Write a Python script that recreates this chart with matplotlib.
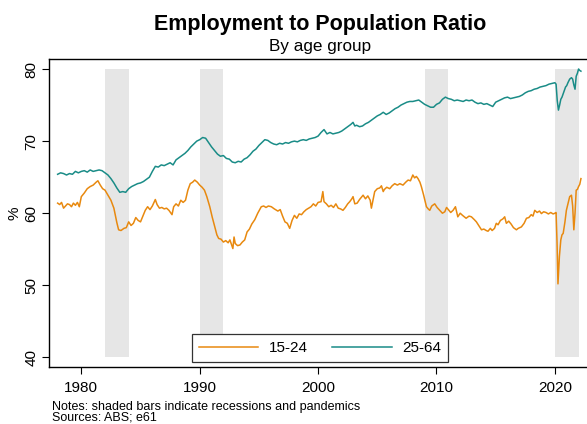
import matplotlib
matplotlib.use("Agg")
import matplotlib.pyplot as plt

plt.rcParams['font.family'] = ['Liberation Sans', 'DejaVu Sans']

# shaded periods (recessions and pandemics)
shade_start = [1982, 1990, 2009, 2020]
shade_end = [1984, 1992, 2011, 2022]

# 15-24 year olds
years_1524 = [1978.0, 1978.17, 1978.33, 1978.5, 1978.67, 1978.83, 1979.0, 1979.17, 1979.33, 1979.5,
              1979.67, 1979.83, 1980.0, 1980.25, 1980.5, 1980.75, 1981.0, 1981.25, 1981.4, 1981.6,
              1981.8, 1982.0, 1982.25, 1982.5, 1982.75, 1983.0, 1983.15, 1983.35, 1983.6, 1983.8,
              1984.0, 1984.2, 1984.4, 1984.6, 1984.8, 1985.0, 1985.2, 1985.4, 1985.6, 1985.8,
              1986.0, 1986.25, 1986.4, 1986.6, 1986.8, 1987.0, 1987.2, 1987.4, 1987.66, 1987.8,
              1988.0, 1988.2, 1988.4, 1988.6, 1988.8, 1989.0, 1989.2, 1989.4, 1989.58, 1989.8,
              1990.0, 1990.2, 1990.4, 1990.6, 1990.85, 1991.05, 1991.27, 1991.45, 1991.6, 1991.8,
              1992.0, 1992.2, 1992.4, 1992.55, 1992.7, 1992.8, 1992.9, 1993.0, 1993.2, 1993.4,
              1993.6, 1993.8, 1994.0, 1994.2, 1994.4, 1994.65, 1994.9, 1995.2, 1995.4, 1995.6,
              1995.8, 1996.05, 1996.3, 1996.6, 1996.8, 1997.0, 1997.2, 1997.4, 1997.6, 1997.8,
              1998.0, 1998.2, 1998.4, 1998.6, 1998.8, 1999.0, 1999.2, 1999.4, 1999.6, 1999.8,
              2000.0, 2000.25, 2000.4, 2000.5, 2000.7, 2000.9, 2001.1, 2001.3, 2001.5, 2001.7,
              2001.9, 2002.1, 2002.3, 2002.5, 2002.67, 2002.85, 2002.95, 2003.1, 2003.3, 2003.5,
              2003.65, 2003.8, 2004.0, 2004.2, 2004.4, 2004.5, 2004.65, 2004.78, 2005.0, 2005.2,
              2005.35, 2005.5, 2005.6, 2005.8, 2006.05, 2006.25, 2006.47, 2006.7, 2006.9, 2007.17,
              2007.4, 2007.6, 2007.8, 2008.0, 2008.15, 2008.3, 2008.44, 2008.6, 2008.72, 2008.9,
              2009.15, 2009.3, 2009.43, 2009.6, 2009.85, 2010.05, 2010.27, 2010.5, 2010.7, 2010.85,
              2011.0, 2011.2, 2011.4, 2011.6, 2011.8, 2012.0, 2012.2, 2012.5, 2012.75, 2012.95,
              2013.2, 2013.37, 2013.6, 2013.8, 2014.0, 2014.2, 2014.35, 2014.55, 2014.7, 2014.9,
              2015.05, 2015.2, 2015.4, 2015.6, 2015.76, 2015.9, 2016.1, 2016.3, 2016.5, 2016.75,
              2016.9, 2017.17, 2017.4, 2017.6, 2017.8, 2018.0, 2018.15, 2018.3, 2018.5, 2018.7,
              2018.86, 2019.05, 2019.25, 2019.45, 2019.65, 2019.85, 2020.0, 2020.1, 2020.18, 2020.26,
              2020.38, 2020.5, 2020.6, 2020.7, 2020.85, 2020.97, 2021.1, 2021.25, 2021.4, 2021.5,
              2021.6, 2021.7, 2021.8, 2021.9, 2022.0, 2022.1, 2022.2]
ratio_1524 = [61.4, 61.2, 61.5, 60.7, 61.0, 61.3, 61.2, 60.9, 61.4, 61.1,
              61.5, 60.9, 62.3, 62.8, 63.4, 63.7, 63.9, 64.3, 64.5, 63.9,
              63.4, 63.2, 62.5, 61.8, 60.7, 58.7, 57.7, 57.6, 57.9, 58.0,
              58.8, 58.3, 58.6, 59.4, 59.0, 58.8, 59.6, 60.4, 60.9, 60.5,
              61.0, 61.9, 61.2, 60.7, 60.8, 60.6, 60.7, 60.4, 59.8, 60.9,
              61.3, 61.0, 61.8, 61.5, 61.8, 63.2, 64.1, 64.3, 64.6, 64.3,
              63.9, 63.6, 63.2, 62.3, 60.9, 59.5, 58.1, 57.0, 56.5, 56.4,
              56.0, 56.2, 55.9, 56.3, 55.6, 55.1, 56.7, 55.8, 55.5, 55.6,
              56.0, 56.3, 57.4, 57.8, 58.5, 59.1, 60.0, 60.9, 61.0, 60.8,
              61.0, 60.9, 60.6, 60.3, 60.5, 59.6, 58.8, 58.6, 57.9, 59.0,
              59.7, 59.3, 59.9, 59.8, 60.2, 60.5, 60.7, 60.9, 61.3, 61.0,
              61.5, 61.6, 63.0, 61.6, 61.3, 60.9, 61.1, 60.8, 61.3, 60.7,
              60.6, 60.4, 60.8, 61.3, 61.6, 62.0, 62.3, 61.3, 61.4, 61.9,
              62.2, 62.5, 62.0, 62.4, 61.8, 60.7, 61.9, 63.0, 63.4, 63.5,
              63.8, 63.0, 63.3, 63.6, 63.4, 63.8, 64.1, 63.9, 64.1, 63.9,
              64.3, 64.6, 64.5, 65.3, 64.9, 65.1, 64.8, 64.3, 63.7, 62.6,
              60.9, 60.6, 60.4, 61.0, 61.3, 60.8, 60.4, 60.0, 60.2, 60.8,
              60.5, 60.1, 60.4, 60.9, 59.5, 60.0, 59.7, 59.3, 59.6, 59.5,
              59.1, 58.8, 58.2, 57.7, 57.8, 57.6, 57.5, 57.9, 57.6, 57.9,
              58.6, 58.4, 59.0, 59.2, 59.5, 58.6, 58.9, 58.5, 58.0, 57.7,
              57.9, 58.1, 58.6, 59.3, 59.4, 59.8, 59.6, 60.4, 60.1, 60.3,
              59.95, 60.2, 60.1, 59.9, 60.1, 59.9, 60.0, 60.1, 56.0, 50.2,
              54.0, 56.3, 57.0, 57.2, 58.8, 60.4, 61.3, 62.3, 62.5, 61.0,
              57.7, 60.0, 63.2, 63.3, 63.7, 64.0, 64.8]

# 25-64 year olds
years_2564 = [1978.0, 1978.25, 1978.5, 1978.75, 1979.0, 1979.25, 1979.5, 1979.75, 1980.0, 1980.25,
              1980.5, 1980.75, 1981.0, 1981.25, 1981.5, 1981.75, 1982.0, 1982.25, 1982.5, 1982.75,
              1983.0, 1983.25, 1983.5, 1983.75, 1984.0, 1984.25, 1984.5, 1984.75, 1985.0, 1985.25,
              1985.5, 1985.75, 1986.0, 1986.25, 1986.5, 1986.75, 1987.0, 1987.25, 1987.5, 1987.75,
              1988.0, 1988.25, 1988.5, 1988.75, 1989.0, 1989.25, 1989.5, 1989.75, 1990.0, 1990.25,
              1990.5, 1990.75, 1991.0, 1991.25, 1991.5, 1991.75, 1992.0, 1992.25, 1992.5, 1992.75,
              1993.0, 1993.25, 1993.5, 1993.75, 1994.0, 1994.25, 1994.5, 1994.75, 1995.0, 1995.25,
              1995.5, 1995.75, 1996.0, 1996.25, 1996.5, 1996.75, 1997.0, 1997.25, 1997.5, 1997.75,
              1998.0, 1998.25, 1998.5, 1998.75, 1999.0, 1999.25, 1999.5, 1999.75, 2000.0, 2000.25,
              2000.5, 2000.75, 2001.0, 2001.25, 2001.5, 2001.75, 2002.0, 2002.25, 2002.5, 2002.75,
              2002.95, 2003.1, 2003.25, 2003.5, 2003.75, 2004.0, 2004.25, 2004.5, 2004.75, 2005.0,
              2005.25, 2005.5, 2005.75, 2006.0, 2006.25, 2006.5, 2006.75, 2007.0, 2007.25, 2007.5,
              2007.75, 2008.0, 2008.25, 2008.5, 2008.75, 2009.0, 2009.25, 2009.5, 2009.75, 2010.0,
              2010.25, 2010.5, 2010.75, 2011.0, 2011.25, 2011.5, 2011.75, 2012.0, 2012.25, 2012.5,
              2012.75, 2013.0, 2013.25, 2013.5, 2013.75, 2014.0, 2014.25, 2014.5, 2014.75, 2015.0,
              2015.25, 2015.5, 2015.75, 2016.0, 2016.25, 2016.5, 2016.75, 2017.0, 2017.25, 2017.5,
              2017.75, 2018.0, 2018.25, 2018.5, 2018.75, 2019.0, 2019.25, 2019.5, 2019.75, 2020.0,
              2020.1, 2020.2, 2020.3, 2020.4, 2020.5, 2020.6, 2020.75, 2020.9, 2021.0, 2021.1,
              2021.25, 2021.4, 2021.5, 2021.6, 2021.7, 2021.8, 2021.9, 2022.0, 2022.1, 2022.2]
ratio_2564 = [65.4, 65.6, 65.5, 65.3, 65.5, 65.4, 65.8, 65.6, 65.8, 65.9,
              65.7, 66.0, 65.8, 65.9, 66.0, 65.9, 65.6, 65.3, 64.8, 64.2,
              63.5, 62.9, 63.0, 62.9, 63.4, 63.7, 63.9, 64.1, 64.2, 64.4,
              64.7, 65.0, 65.8, 66.5, 66.4, 66.7, 66.6, 66.8, 67.0, 66.7,
              67.4, 67.7, 68.0, 68.3, 68.7, 69.2, 69.6, 70.0, 70.2, 70.5,
              70.4, 69.8, 69.2, 68.7, 68.2, 67.9, 68.0, 67.6, 67.5, 67.1,
              67.0, 67.2, 67.1, 67.5, 67.7, 68.1, 68.6, 68.9, 69.4, 69.8,
              70.2, 70.1, 69.8, 69.6, 69.5, 69.7, 69.6, 69.8, 69.7, 69.9,
              70.0, 69.9, 70.1, 70.2, 70.1, 70.3, 70.4, 70.5, 70.7, 71.2,
              71.6, 71.0, 71.2, 71.0, 71.1, 71.2, 71.4, 71.7, 72.0, 72.3,
              72.6, 72.1, 72.2, 72.0, 72.1, 72.4, 72.6, 72.9, 73.2, 73.5,
              73.7, 74.0, 73.7, 73.9, 74.2, 74.5, 74.7, 75.0, 75.2, 75.4,
              75.5, 75.5, 75.6, 75.7, 75.4, 75.1, 74.9, 74.7, 74.7, 75.1,
              75.3, 75.8, 76.1, 75.9, 75.8, 75.6, 75.7, 75.6, 75.5, 75.7,
              75.6, 75.7, 75.4, 75.2, 75.3, 75.1, 75.2, 75.0, 74.8, 75.4,
              75.6, 75.8, 76.0, 76.1, 75.9, 76.0, 76.1, 76.2, 76.4, 76.7,
              76.9, 77.0, 77.2, 77.3, 77.5, 77.6, 77.7, 77.9, 78.0, 78.1,
              77.9, 75.6, 74.3, 75.0, 75.8, 76.1, 76.8, 77.5, 77.7, 78.1,
              78.6, 78.8, 78.6, 77.8, 77.2, 79.0, 79.4, 80.0, 79.8, 79.7]

xticks = [1980, 1990, 2000, 2010, 2020]
yticks = [40, 50, 60, 70, 80]

orange = '#E8890F'
teal = '#1A8C87'

W, H = 587, 424
fig = plt.figure(figsize=(W / 100, H / 100), dpi=100)
ax = fig.add_axes([49 / W, 57 / H, 542 / W, 308 / H])

for s, e in zip(shade_start, shade_end):
    ax.fill_between([s, e], 40, 80, color='#e6e6e6', lw=0, zorder=1)

ax.plot(years_1524, ratio_1524, color=orange, lw=1.1, label='15-24', zorder=3)
ax.plot(years_2564, ratio_2564, color=teal, lw=1.1, label='25-64', zorder=3)

ax.set_xlim(1977.27, 2023.05)
ax.set_ylim(38.67, 81.39)
ax.set_xticks(xticks)
ax.set_yticks(yticks)
ax.tick_params(axis='x', labelsize=11, length=5, width=0.8, pad=5)
ax.tick_params(axis='y', labelsize=11, length=5, width=0.8, pad=2.5)
for lab in ax.get_yticklabels():
    lab.set_rotation(90)
    lab.set_va('center')
ax.set_ylabel('%', fontsize=11, labelpad=2)

for sp in ax.spines.values():
    sp.set_linewidth(1.0)
    sp.set_color('black')
ax.spines['right'].set_visible(False)

leg = ax.legend(loc='lower center', ncol=2, bbox_to_anchor=(320 / W, 62 / H),
                bbox_transform=fig.transFigure, fontsize=11, frameon=True,
                fancybox=False, framealpha=1, edgecolor='#333333',
                handlelength=3.9, handletextpad=0.7, columnspacing=1.6,
                borderpad=0.45, borderaxespad=0)
leg.get_frame().set_linewidth(0.9)
leg.set_zorder(5)

fig.text(320 / W, 1 - 30 / H, 'Employment to Population Ratio', ha='center', va='baseline',
         fontsize=15.5, fontweight='bold')
fig.text(320 / W, 1 - 51 / H, 'By age group', ha='center', va='baseline', fontsize=12.3)
fig.text(52 / W, 1 - 410 / H, 'Notes: shaded bars indicate recessions and pandemics',
         ha='left', va='baseline', fontsize=9)
fig.text(52 / W, 1 - 421 / H, 'Sources: ABS; e61', ha='left', va='baseline', fontsize=9)

fig.savefig('out.png', dpi=100)
